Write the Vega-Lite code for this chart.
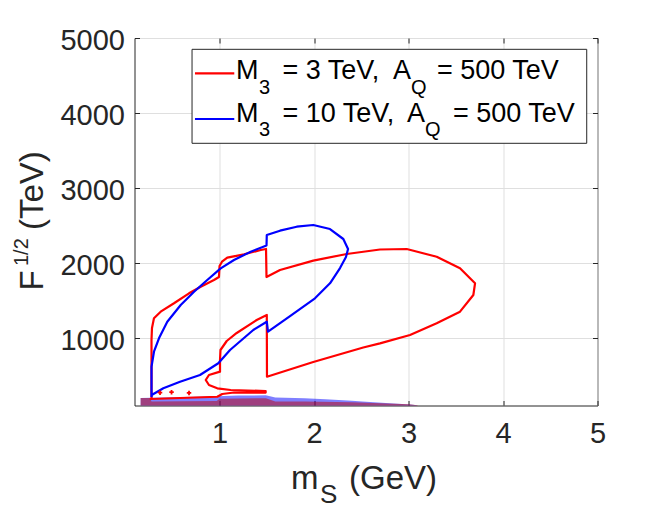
{
  "$schema": "https://vega.github.io/schema/vega-lite/v6.json",
  "width": 463,
  "height": 367.5,
  "autosize": {"type": "none"},
  "padding": {"left": 134.5, "top": 38, "right": 63.5, "bottom": 104.5},
  "background": "white",
  "config": {
    "view": {"stroke": "#262626", "strokeWidth": 1},
    "font": "Liberation Sans",
    "text": {"font": "Liberation Sans"}
  },
  "datasets": {
    "redLoop": [
      {"o": 1, "x": 0.280, "y": 193}, {"o": 2, "x": 0.280, "y": 440}, {"o": 3, "x": 0.280, "y": 973},
      {"o": 4, "x": 0.285, "y": 1133}, {"o": 5, "x": 0.306, "y": 1263}, {"o": 6, "x": 0.377, "y": 1351},
      {"o": 7, "x": 0.518, "y": 1463}, {"o": 8, "x": 0.677, "y": 1596}, {"o": 9, "x": 0.801, "y": 1684},
      {"o": 10, "x": 0.941, "y": 1773}, {"o": 11, "x": 0.994, "y": 1813}, {"o": 12, "x": 1.000, "y": 1960},
      {"o": 13, "x": 1.026, "y": 2017}, {"o": 14, "x": 1.082, "y": 2071}, {"o": 15, "x": 1.259, "y": 2116},
      {"o": 16, "x": 1.436, "y": 2173}, {"o": 17, "x": 1.492, "y": 2187}, {"o": 18, "x": 1.497, "y": 1813},
      {"o": 19, "x": 1.640, "y": 1907}, {"o": 20, "x": 1.992, "y": 2031}, {"o": 21, "x": 2.346, "y": 2120},
      {"o": 22, "x": 2.698, "y": 2180}, {"o": 23, "x": 2.981, "y": 2187}, {"o": 24, "x": 3.298, "y": 2084},
      {"o": 25, "x": 3.545, "y": 1929}, {"o": 26, "x": 3.704, "y": 1729}, {"o": 27, "x": 3.686, "y": 1573},
      {"o": 28, "x": 3.545, "y": 1351}, {"o": 29, "x": 3.298, "y": 1196}, {"o": 30, "x": 3.016, "y": 1040},
      {"o": 31, "x": 2.698, "y": 929}, {"o": 32, "x": 2.521, "y": 873}, {"o": 33, "x": 1.992, "y": 680},
      {"o": 34, "x": 1.502, "y": 484}, {"o": 35, "x": 1.500, "y": 1307}, {"o": 36, "x": 1.393, "y": 1240},
      {"o": 37, "x": 1.182, "y": 1067}, {"o": 38, "x": 1.076, "y": 960}, {"o": 39, "x": 1.010, "y": 840},
      {"o": 40, "x": 1.005, "y": 707}, {"o": 41, "x": 1.005, "y": 551}, {"o": 42, "x": 0.888, "y": 507},
      {"o": 43, "x": 0.854, "y": 440}, {"o": 44, "x": 0.888, "y": 373}, {"o": 45, "x": 0.976, "y": 329},
      {"o": 46, "x": 1.118, "y": 307}, {"o": 47, "x": 1.488, "y": 293}, {"o": 48, "x": 1.488, "y": 273},
      {"o": 49, "x": 1.153, "y": 273}, {"o": 50, "x": 1.029, "y": 253}, {"o": 51, "x": 0.976, "y": 217},
      {"o": 52, "x": 0.271, "y": 187}, {"o": 53, "x": 0.280, "y": 193}
    ],
    "blueLoop": [
      {"o": 1, "x": 0.280, "y": 213}, {"o": 2, "x": 0.280, "y": 440}, {"o": 3, "x": 0.280, "y": 617},
      {"o": 4, "x": 0.306, "y": 817}, {"o": 5, "x": 0.359, "y": 996}, {"o": 6, "x": 0.447, "y": 1217},
      {"o": 7, "x": 0.589, "y": 1440}, {"o": 8, "x": 0.730, "y": 1617}, {"o": 9, "x": 0.870, "y": 1773},
      {"o": 10, "x": 1.012, "y": 1929}, {"o": 11, "x": 1.153, "y": 2040}, {"o": 12, "x": 1.330, "y": 2151},
      {"o": 13, "x": 1.497, "y": 2233}, {"o": 14, "x": 1.500, "y": 2373}, {"o": 15, "x": 1.640, "y": 2431},
      {"o": 16, "x": 1.817, "y": 2484}, {"o": 17, "x": 1.992, "y": 2507}, {"o": 18, "x": 2.169, "y": 2453},
      {"o": 19, "x": 2.310, "y": 2320}, {"o": 20, "x": 2.360, "y": 2187}, {"o": 21, "x": 2.338, "y": 2080},
      {"o": 22, "x": 2.275, "y": 1933}, {"o": 23, "x": 2.169, "y": 1729}, {"o": 24, "x": 2.010, "y": 1529},
      {"o": 25, "x": 1.746, "y": 1293}, {"o": 26, "x": 1.513, "y": 1084}, {"o": 27, "x": 1.500, "y": 1217},
      {"o": 28, "x": 1.357, "y": 1107}, {"o": 29, "x": 1.111, "y": 840}, {"o": 30, "x": 0.987, "y": 663},
      {"o": 31, "x": 0.793, "y": 507}, {"o": 32, "x": 0.582, "y": 417}, {"o": 33, "x": 0.405, "y": 329},
      {"o": 34, "x": 0.282, "y": 240}, {"o": 35, "x": 0.280, "y": 213}
    ],
    "blueBand": [
      {"x": 0.165, "y": 200}, {"x": 0.27, "y": 205}, {"x": 0.5, "y": 210}, {"x": 0.75, "y": 216},
      {"x": 0.97, "y": 222}, {"x": 1.2, "y": 233}, {"x": 1.49, "y": 236}, {"x": 1.59, "y": 206},
      {"x": 1.9, "y": 197}, {"x": 2.12, "y": 184}, {"x": 2.4, "y": 165}, {"x": 2.51, "y": 152},
      {"x": 2.8, "y": 130}, {"x": 3.02, "y": 113}, {"x": 3.09, "y": 102}
    ],
    "redBand": [
      {"x": 0.165, "y": 200}, {"x": 0.265, "y": 200}, {"x": 0.28, "y": 152}, {"x": 0.97, "y": 160},
      {"x": 1.0, "y": 190}, {"x": 1.49, "y": 198}, {"x": 1.59, "y": 152}, {"x": 1.9, "y": 152},
      {"x": 2.4, "y": 143}, {"x": 2.7, "y": 130}, {"x": 3.0, "y": 116}, {"x": 3.1, "y": 103}
    ],
    "redDots": [
      {"x": 0.370, "y": 271}, {"x": 0.492, "y": 277}, {"x": 0.677, "y": 267}
    ]
  },
  "layer": [
    {
      "layer": [
        {
          "encoding": {
            "x": {
              "field": "x",
              "type": "quantitative",
              "scale": {"domain": [0.1, 5], "nice": false, "zero": false},
              "axis": {
                "values": [1, 2, 3, 4, 5], "title": null, "grid": true, "gridColor": "#DFDFDF",
                "domain": false, "tickSize": -5, "tickColor": "#262626", "format": "d",
                "labelFontSize": 29, "labelFont": "Liberation Sans", "labelColor": "#262626",
                "labelPadding": 19, "labelFlush": false, "labelOverlap": false
              }
            },
            "y": {
              "field": "y",
              "type": "quantitative",
              "scale": {"domain": [100, 5000], "nice": false, "zero": false},
              "axis": {
                "values": [1000, 2000, 3000, 4000, 5000], "title": null, "grid": true, "gridColor": "#DFDFDF",
                "domain": false, "tickSize": -5, "tickColor": "#262626", "format": "d",
                "labelFontSize": 29, "labelFont": "Liberation Sans", "labelColor": "#262626",
                "labelPadding": 15, "labelOffset": 2, "labelFlush": false, "labelOverlap": false
              }
            }
          },
          "layer": [
            {
              "data": {"name": "blueBand"},
              "mark": {"type": "area", "color": "#0000FF", "opacity": 0.5},
              "encoding": {"y2": {"datum": 100}}
            },
            {
              "data": {"name": "redBand"},
              "mark": {"type": "area", "color": "#C00000", "opacity": 0.5},
              "encoding": {"y2": {"datum": 100}}
            },
            {
              "data": {"name": "redLoop"},
              "mark": {"type": "line", "color": "#FF0000", "strokeWidth": 2.2, "strokeJoin": "round"},
              "encoding": {"order": {"field": "o", "type": "quantitative"}}
            },
            {
              "data": {"name": "blueLoop"},
              "mark": {"type": "line", "color": "#0000FF", "strokeWidth": 2.2, "strokeJoin": "round"},
              "encoding": {"order": {"field": "o", "type": "quantitative"}}
            },
            {
              "data": {"name": "redDots"},
              "mark": {"type": "point", "shape": "cross", "filled": true, "size": 20, "color": "#FF0000", "opacity": 1}
            }
          ]
        },
        {
          "data": {"values": [{}]},
          "mark": {"type": "rect", "fill": "white", "stroke": "#262626", "strokeWidth": 1},
          "encoding": {"x": {"datum": 0.709}, "x2": {"datum": 4.886}, "y": {"datum": 3596}, "y2": {"datum": 4849}}
        },
        {
          "data": {"values": [{}]},
          "mark": {"type": "rule", "color": "#FF0000", "strokeWidth": 2.2},
          "encoding": {"x": {"datum": 0.740}, "x2": {"datum": 1.156}, "y": {"datum": 4529}}
        },
        {
          "data": {"values": [{}]},
          "mark": {"type": "rule", "color": "#0000FF", "strokeWidth": 2.2},
          "encoding": {"x": {"datum": 0.740}, "x2": {"datum": 1.156}, "y": {"datum": 3920}}
        },
        {
          "data": {"values": [{}]},
          "mark": {"type": "text", "align": "left", "baseline": "alphabetic", "fontSize": 27, "color": "#000000"},
          "encoding": {"x": {"datum": 1.174}, "y": {"datum": 4453}, "text": {"value": "M"}}
        },
        {
          "data": {"values": [{}]},
          "mark": {"type": "text", "align": "left", "baseline": "alphabetic", "fontSize": 20, "color": "#000000"},
          "encoding": {"x": {"datum": 1.418}, "y": {"datum": 4260}, "text": {"value": "3"}}
        },
        {
          "data": {"values": [{}]},
          "mark": {"type": "text", "align": "left", "baseline": "alphabetic", "fontSize": 27, "color": "#000000"},
          "encoding": {"x": {"datum": 1.666}, "y": {"datum": 4453}, "text": {"value": "= 3 TeV,"}}
        },
        {
          "data": {"values": [{}]},
          "mark": {"type": "text", "align": "left", "baseline": "alphabetic", "fontSize": 27, "color": "#000000"},
          "encoding": {"x": {"datum": 2.836}, "y": {"datum": 4453}, "text": {"value": "A"}}
        },
        {
          "data": {"values": [{}]},
          "mark": {"type": "text", "align": "left", "baseline": "alphabetic", "fontSize": 20, "color": "#000000"},
          "encoding": {"x": {"datum": 3.026}, "y": {"datum": 4260}, "text": {"value": "Q"}}
        },
        {
          "data": {"values": [{}]},
          "mark": {"type": "text", "align": "left", "baseline": "alphabetic", "fontSize": 27, "color": "#000000"},
          "encoding": {"x": {"datum": 3.301}, "y": {"datum": 4453}, "text": {"value": "= 500 TeV"}}
        },
        {
          "data": {"values": [{}]},
          "mark": {"type": "text", "align": "left", "baseline": "alphabetic", "fontSize": 27, "color": "#000000"},
          "encoding": {"x": {"datum": 1.174}, "y": {"datum": 3880}, "text": {"value": "M"}}
        },
        {
          "data": {"values": [{}]},
          "mark": {"type": "text", "align": "left", "baseline": "alphabetic", "fontSize": 20, "color": "#000000"},
          "encoding": {"x": {"datum": 1.418}, "y": {"datum": 3687}, "text": {"value": "3"}}
        },
        {
          "data": {"values": [{}]},
          "mark": {"type": "text", "align": "left", "baseline": "alphabetic", "fontSize": 27, "color": "#000000"},
          "encoding": {"x": {"datum": 1.666}, "y": {"datum": 3880}, "text": {"value": "= 10 TeV,"}}
        },
        {
          "data": {"values": [{}]},
          "mark": {"type": "text", "align": "left", "baseline": "alphabetic", "fontSize": 27, "color": "#000000"},
          "encoding": {"x": {"datum": 2.984}, "y": {"datum": 3880}, "text": {"value": "A"}}
        },
        {
          "data": {"values": [{}]},
          "mark": {"type": "text", "align": "left", "baseline": "alphabetic", "fontSize": 20, "color": "#000000"},
          "encoding": {"x": {"datum": 3.174}, "y": {"datum": 3687}, "text": {"value": "Q"}}
        },
        {
          "data": {"values": [{}]},
          "mark": {"type": "text", "align": "left", "baseline": "alphabetic", "fontSize": 27, "color": "#000000"},
          "encoding": {"x": {"datum": 3.471}, "y": {"datum": 3880}, "text": {"value": "= 500 TeV"}}
        },
        {
          "data": {"values": [{}]},
          "mark": {"type": "text", "align": "left", "baseline": "alphabetic", "fontSize": 33, "color": "#262626"},
          "encoding": {"x": {"datum": 1.756}, "y": {"datum": -1013}, "text": {"value": "m"}}
        },
        {
          "data": {"values": [{}]},
          "mark": {"type": "text", "align": "left", "baseline": "alphabetic", "fontSize": 26, "color": "#262626"},
          "encoding": {"x": {"datum": 2.063}, "y": {"datum": -1200}, "text": {"value": "S"}}
        },
        {
          "data": {"values": [{}]},
          "mark": {"type": "text", "align": "left", "baseline": "alphabetic", "fontSize": 33, "color": "#262626"},
          "encoding": {"x": {"datum": 2.370}, "y": {"datum": -1013}, "text": {"value": "(GeV)"}}
        },
        {
          "data": {"values": [{}]},
          "mark": {"type": "text", "align": "left", "baseline": "alphabetic", "angle": 270, "fontSize": 33, "color": "#262626"},
          "encoding": {"x": {"datum": -0.865}, "y": {"datum": 1633}, "text": {"value": "F"}}
        },
        {
          "data": {"values": [{}]},
          "mark": {"type": "text", "align": "left", "baseline": "alphabetic", "angle": 270, "fontSize": 20, "color": "#262626"},
          "encoding": {"x": {"datum": -1.024}, "y": {"datum": 1960}, "text": {"value": "1/2"}}
        },
        {
          "data": {"values": [{}]},
          "mark": {"type": "text", "align": "left", "baseline": "alphabetic", "angle": 270, "fontSize": 33, "color": "#262626"},
          "encoding": {"x": {"datum": -0.865}, "y": {"datum": 2440}, "text": {"value": "(TeV)"}}
        }
      ]
    },
    {
      "data": {"values": [{"x": 1, "y": 1000}]},
      "mark": {"type": "point", "opacity": 0},
      "encoding": {
        "x": {
          "field": "x",
          "type": "quantitative",
          "scale": {"domain": [0.1, 5], "nice": false, "zero": false},
          "axis": {"orient": "top", "values": [1, 2, 3, 4, 5], "labels": false, "title": null, "domain": false, "grid": false, "tickSize": -5, "tickColor": "#262626"}
        },
        "y": {
          "field": "y",
          "type": "quantitative",
          "scale": {"domain": [100, 5000], "nice": false, "zero": false},
          "axis": {"orient": "right", "values": [1000, 2000, 3000, 4000, 5000], "labels": false, "title": null, "domain": false, "grid": false, "tickSize": -5, "tickColor": "#262626"}
        }
      }
    }
  ],
  "resolve": {"scale": {"x": "independent", "y": "independent"}}
}
